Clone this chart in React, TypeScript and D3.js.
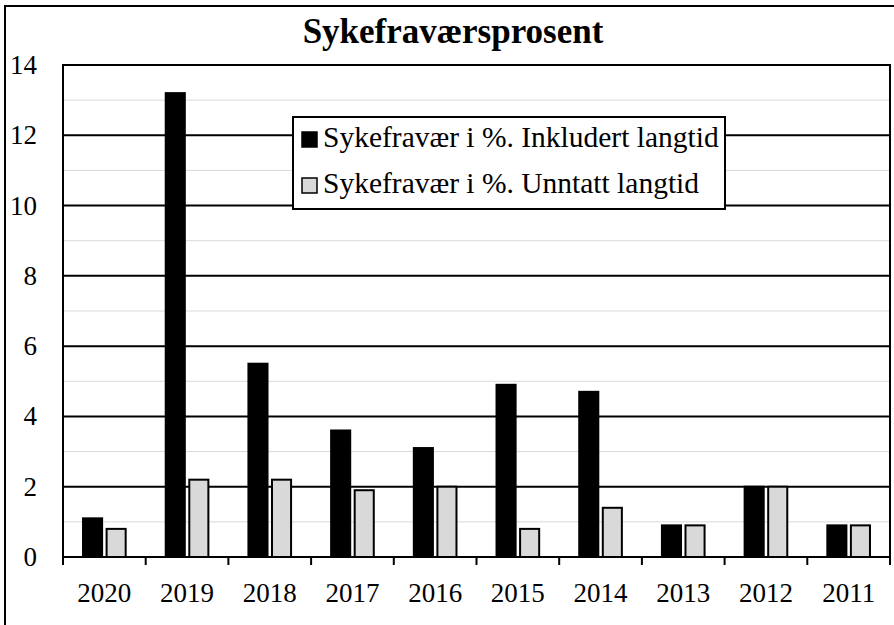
import { useEffect, useRef } from 'react';
import * as d3 from 'd3';

const years = ['2020', '2019', '2018', '2017', '2016', '2015', '2014', '2013', '2012', '2011'];
const inklLangtid = [1.1, 13.2, 5.5, 3.6, 3.1, 4.9, 4.7, 0.9, 2.0, 0.9];
const untattLangtid = [0.8, 2.2, 2.2, 1.9, 2.0, 0.8, 1.4, 0.9, 2.0, 0.9];
const yTicks = [0, 2, 4, 6, 8, 10, 12, 14];
const seriesNames = ['Sykefravær i %. Inkludert langtid', 'Sykefravær i %. Unntatt langtid'];
const seriesColors = ['#000000', '#d9d9d9'];

const W = 894;
const H = 625;
const FONT = "'Liberation Serif', 'Times New Roman', 'DejaVu Serif', serif";

export default function App() {
  const svgRef = useRef<SVGSVGElement>(null);

  useEffect(() => {
    if (!svgRef.current) return;
    const svg = d3.select(svgRef.current);
    svg.selectAll('*').remove();

    const left = 63;
    const right = 890;
    const top = 65;
    const bottom = 557;

    const x = d3.scaleBand().domain(years).range([left, right]);
    const inner = d3
      .scaleBand()
      .domain(['0', '1'])
      .range([0, x.bandwidth()])
      .paddingInner(0.19)
      .paddingOuter(0.85);
    const y = d3.scaleLinear().domain([0, 14]).range([bottom, top]);

    // outer chart border (runs off the right/bottom edge)
    svg
      .append('rect')
      .attr('x', 5)
      .attr('y', 6)
      .attr('width', W + 20)
      .attr('height', H + 20)
      .attr('fill', '#fff')
      .attr('stroke', '#000')
      .attr('stroke-width', 2);

    // minor gridlines
    svg
      .append('g')
      .selectAll('line')
      .data(d3.range(1, 14, 2))
      .join('line')
      .attr('x1', left)
      .attr('x2', right)
      .attr('y1', (d) => y(d))
      .attr('y2', (d) => y(d))
      .attr('stroke', '#d9d9d9')
      .attr('stroke-width', 1);

    // major gridlines
    svg
      .append('g')
      .selectAll('line')
      .data(yTicks.slice(1))
      .join('line')
      .attr('x1', left)
      .attr('x2', right)
      .attr('y1', (d) => y(d))
      .attr('y2', (d) => y(d))
      .attr('stroke', '#000')
      .attr('stroke-width', 2);

    // bars
    const series = [inklLangtid, untattLangtid];
    series.forEach((vals, si) => {
      svg
        .append('g')
        .selectAll('rect')
        .data(vals)
        .join('rect')
        .attr('x', (_, i) => (x(years[i]) ?? 0) + (inner(String(si)) ?? 0))
        .attr('y', (d) => y(d))
        .attr('width', inner.bandwidth())
        .attr('height', (d) => bottom - y(d))
        .attr('fill', seriesColors[si])
        .attr('stroke', '#000')
        .attr('stroke-width', 2);
    });

    // plot area frame
    svg
      .append('path')
      .attr('d', `M${left},${bottom}V${top}H${right}V${bottom}`)
      .attr('fill', 'none')
      .attr('stroke', '#000')
      .attr('stroke-width', 2);

    // x axis
    const xAxis = svg.append('g');
    xAxis
      .append('line')
      .attr('x1', left)
      .attr('x2', right)
      .attr('y1', bottom)
      .attr('y2', bottom)
      .attr('stroke', '#000')
      .attr('stroke-width', 2);
    xAxis
      .selectAll('line.tick')
      .data(years)
      .join('line')
      .attr('class', 'tick')
      .attr('x1', (d) => x(d) ?? 0)
      .attr('x2', (d) => x(d) ?? 0)
      .attr('y1', bottom)
      .attr('y2', bottom + 8)
      .attr('stroke', '#000')
      .attr('stroke-width', 2);
    svg
      .append('line')
      .attr('x1', right)
      .attr('x2', right)
      .attr('y1', bottom)
      .attr('y2', bottom + 8)
      .attr('stroke', '#000')
      .attr('stroke-width', 2);
    xAxis
      .selectAll('text')
      .data(years)
      .join('text')
      .attr('x', (d) => (x(d) ?? 0) + x.bandwidth() / 2)
      .attr('y', 602)
      .attr('text-anchor', 'middle')
      .style('font-family', FONT)
      .style('font-size', '27px')
      .text((d) => d);

    // y labels
    svg
      .append('g')
      .selectAll('text')
      .data(yTicks)
      .join('text')
      .attr('x', 37)
      .attr('y', (d) => y(d) + 9)
      .attr('text-anchor', 'end')
      .style('font-family', FONT)
      .style('font-size', '27px')
      .text((d) => d);

    // title
    svg
      .append('text')
      .attr('x', 453)
      .attr('y', 43)
      .attr('text-anchor', 'middle')
      .style('font-family', FONT)
      .style('font-weight', 'bold')
      .style('font-size', '35px')
      .text('Sykefraværsprosent');

    // legend
    const lg = svg.append('g');
    lg.append('rect')
      .attr('x', 293)
      .attr('y', 117)
      .attr('width', 432)
      .attr('height', 92)
      .attr('fill', '#fff')
      .attr('stroke', '#000')
      .attr('stroke-width', 2);
    seriesNames.forEach((name, i) => {
      const base = 147 + i * 46;
      lg.append('rect')
        .attr('x', 302)
        .attr('y', base - 15)
        .attr('width', 15)
        .attr('height', 15)
        .attr('fill', seriesColors[i])
        .attr('stroke', '#000')
        .attr('stroke-width', 1.5);
      lg.append('text')
        .attr('x', 323)
        .attr('y', base)
        .style('font-family', FONT)
        .style('font-size', '29.5px')
        .text(name);
    });
  }, []);

  return (
    <div style={{ position: 'absolute', left: 0, top: 0, width: W, height: H, overflow: 'hidden' }}>
      <svg ref={svgRef} width={W} height={H} viewBox={`0 0 ${W} ${H}`} style={{ display: 'block' }} />
    </div>
  );
}
